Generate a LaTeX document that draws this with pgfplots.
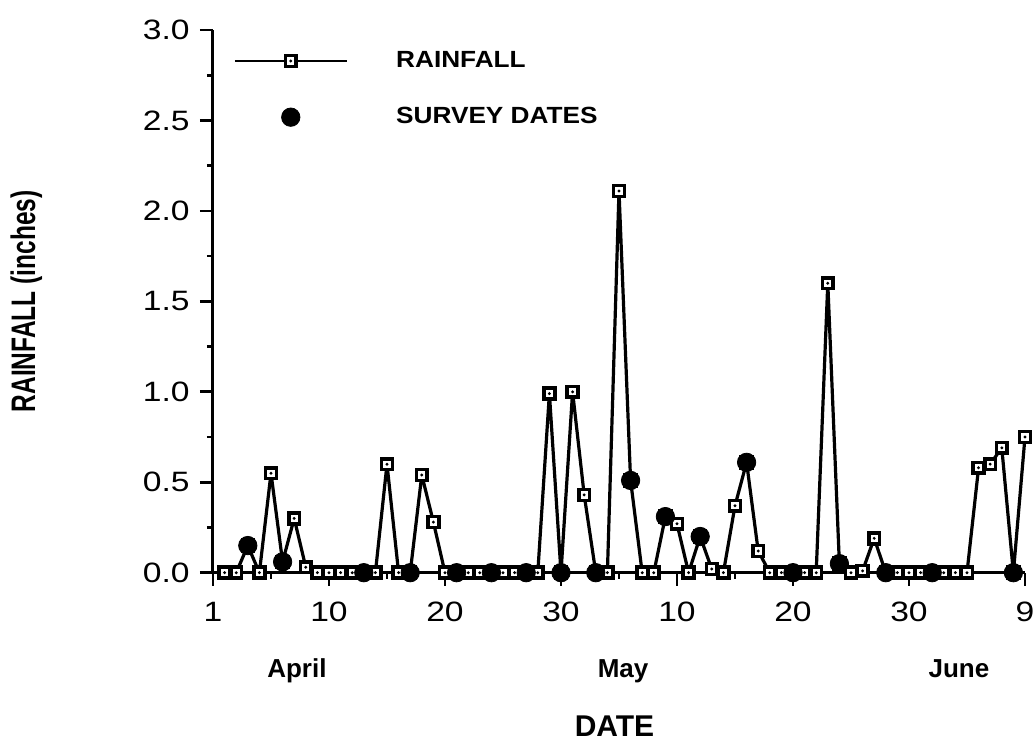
\documentclass[border=0pt]{standalone}
\usepackage{fontspec}
\setmainfont{Liberation Sans}
\newfontfamily\tickfont{Liberation Sans}[FakeStretch=1.2]
\newfontfamily\legfont{Liberation Sans Bold}[FakeStretch=1.12]
\newfontfamily\vlabfont{Liberation Sans Bold}[FakeStretch=0.72]
\usepackage{pgfplots}
\usepackage{pgfplotstable}
\pgfplotsset{compat=1.18}

% open square with a small dot in the middle
\pgfdeclareplotmark{dotsquare}{%
  \pgfpathrectangle{\pgfqpoint{-\pgfplotmarksize}{-\pgfplotmarksize}}{\pgfqpoint{2\pgfplotmarksize}{2\pgfplotmarksize}}%
  \pgfusepathqfillstroke
  \begin{pgfscope}%
    \pgfpathcircle{\pgfpointorigin}{0.3\pgfplotmarksize}%
    \pgfsetfillcolor{black}%
    \pgfusepathqfill
  \end{pgfscope}%
}

% legend images: a line with the mark in its middle, or the mark alone
\pgfplotsset{
  rainlegend/.style={legend image code/.code={%
    \draw[mark repeat=2, mark phase=2, ##1, line width=1.4pt] plot coordinates {(0pt,0pt) (28pt,0pt) (56pt,0pt)};}},
  dotlegend/.style={legend image code/.code={%
    \path[##1] plot[only marks] coordinates {(28pt,0pt)};}},
}

% daily rainfall, day 1 = 1 April
\pgfplotstableread{
day rain
1 0
2 0
3 0.15
4 0
5 0.55
6 0.06
7 0.30
8 0.03
9 0
10 0
11 0
12 0
13 0
14 0
15 0.60
16 0
17 0
18 0.54
19 0.28
20 0
21 0
22 0
23 0
24 0
25 0
26 0
27 0
28 0
29 0.99
30 0
31 1.00
32 0.43
33 0
34 0
35 2.11
36 0.51
37 0
38 0
39 0.31
40 0.27
41 0
42 0.20
43 0.02
44 0
45 0.37
46 0.61
47 0.12
48 0
49 0
50 0
51 0
52 0
53 1.60
54 0.05
55 0
56 0.01
57 0.19
58 0
59 0
60 0
61 0
62 0
63 0
64 0
65 0
66 0.58
67 0.60
68 0.69
69 0
70 0.75
}\rainfall

% survey dates, drawn at that day's rainfall
\pgfplotstableread{
day rain
3 0.15
6 0.06
13 0
17 0
21 0
24 0
27 0
30 0
33 0
36 0.51
39 0.31
42 0.20
46 0.61
50 0
54 0.05
58 0
62 0
69 0
}\survey

\begin{document}
\begin{tikzpicture}
\useasboundingbox (-106.5pt,-87.15pt) rectangle (410pt,286.35pt);
\begin{axis}[
  at={(0pt,0pt)}, anchor=south west,
  scale only axis, width=406pt, height=271.35pt,
  xmin=0, xmax=70, ymin=0, ymax=3,
  clip=false,
  axis lines=left,
  axis line style={-, line width=1.5pt},
  tick align=outside,
  xtick={0,10,20,30,40,50,60,70},
  xticklabels={1,10,20,30,10,20,30,9},
  minor xtick={5,15,25,35,45,55,65},
  ytick={0,0.5,1,1.5,2,2.5,3},
  yticklabels={0.0,0.5,1.0,1.5,2.0,2.5,3.0},
  minor ytick={0.25,0.75,1.25,1.75,2.25,2.75},
  major tick length=6.5pt, minor tick length=3pt,
  every tick/.append style={black, line width=1.3pt},
  tick label style={font=\tickfont\fontsize{14}{16}\selectfont, inner sep=0pt},
  xticklabel style={anchor=north, yshift=-8pt},
  yticklabel style={anchor=east, xshift=-5pt},
  xlabel={DATE},
  ylabel={RAINFALL (inches)},
  xlabel style={at={(0.4945,-0.3022)}, anchor=base, font=\bfseries\fontsize{15}{18}\selectfont},
  ylabel style={at={(-0.2192,0.5)}, anchor=base, font=\vlabfont\fontsize{17}{19}\selectfont},
  legend style={draw=none, fill=none, inner sep=0pt, at={(0.0246,0.891)}, anchor=west,
    font=\legfont\fontsize{11.7}{14}\selectfont, row sep=18.5pt, column sep=24pt,
    nodes={inner sep=0pt}},
  legend cell align=left,
]
\addplot[black, line width=1.6pt, line join=round, mark=dotsquare, mark size=2.7pt,
  mark options={fill=white, line width=1.8pt, line join=miter, solid}, rainlegend]
  table[x=day, y=rain] {\rainfall};
\addlegendentry{RAINFALL}
\addplot[only marks, mark=*, mark size=4.6pt,
  mark options={fill=black, draw=black, line width=0.4pt}, dotlegend]
  table[x=day, y=rain] {\survey};
\addlegendentry{SURVEY DATES}

\node[font=\bfseries\fontsize{13}{15}\selectfont, anchor=base] at (axis description cs:0.1034,-0.194) {April};
\node[font=\bfseries\fontsize{13}{15}\selectfont, anchor=base] at (axis description cs:0.505,-0.194) {May};
\node[font=\bfseries\fontsize{13}{15}\selectfont, anchor=base] at (axis description cs:0.9187,-0.194) {June};
\end{axis}
\end{tikzpicture}
\end{document}
